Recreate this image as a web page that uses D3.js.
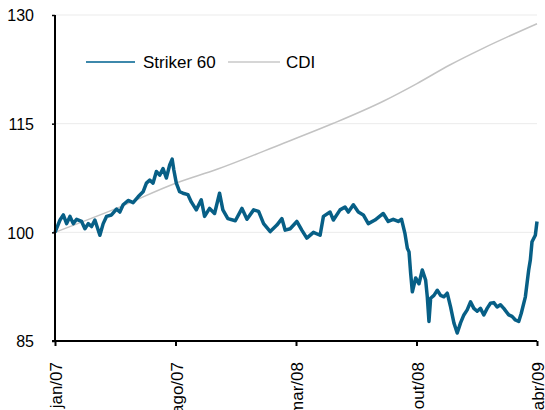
<!DOCTYPE html>
<html>
<head>
<meta charset="utf-8">
<script src="https://cdn.jsdelivr.net/npm/d3@7"></script>
<style>
  body { margin: 0; background: #fff; }
  text { font-family: "Liberation Sans", Arial, sans-serif; fill: #000; }
</style>
</head>
<body>
<svg width="545" height="410"></svg>
<script>
const svg = d3.select("svg");

// trading day index (0 = jan/07) and index value
const strikerDays = [0, 6, 10, 14, 18, 22, 26, 32, 36, 40, 44, 48, 54, 58, 62, 68, 74, 78, 82, 88,
  94, 100, 106, 110, 114, 118, 122, 126, 130, 134, 138, 141, 143, 146, 150, 154, 160, 164, 170, 176,
  180, 186, 192, 198, 202, 208, 217, 225, 231, 239, 245, 251, 259, 267, 273, 277, 283, 291, 297, 303,
  311, 319, 323, 331, 335, 343, 349, 353, 359, 365, 371, 377, 385, 395, 401, 407, 413, 417, 421, 424,
  426, 428, 430, 434, 438, 442, 446, 448, 450, 452, 456, 460, 464, 468, 472, 476, 480, 484, 488, 492,
  496, 500, 504, 508, 512, 516, 520, 524, 528, 532, 536, 540, 546, 550, 554, 558, 561, 566, 570, 572,
  574, 578, 580];
const strikerVals = [100.0, 101.7, 102.4, 101.2, 102.2, 101.2, 101.8, 101.5, 100.5, 101.2, 100.8, 101.7, 99.6, 101.2, 102.2, 102.4, 103.2, 102.8, 103.8, 104.4,
  104.1, 104.9, 105.6, 106.8, 107.2, 106.8, 108.4, 107.9, 108.8, 107.5, 109.3, 110.1, 108.6, 106.8, 105.6, 105.4, 105.2, 104.2, 103.1, 104.5,
  102.2, 103.3, 102.6, 105.4, 103.1, 101.9, 101.6, 103.3, 101.8, 103.1, 102.9, 101.2, 100.1, 101.0, 101.9, 100.3, 100.5, 101.5, 100.3, 99.2,
  100.0, 99.6, 102.2, 102.8, 101.7, 103.1, 103.5, 102.8, 103.8, 102.8, 102.4, 101.2, 101.7, 102.6, 101.5, 101.8, 101.5, 101.8, 99.9, 97.8,
  97.3, 94.3, 91.8, 93.7, 92.9, 94.8, 93.4, 91.1, 87.7, 90.9, 91.3, 92.0, 91.3, 91.1, 91.6, 89.7, 87.5, 86.1, 87.5, 88.6,
  89.3, 90.4, 89.5, 89.1, 89.5, 88.6, 89.5, 90.2, 90.3, 89.7, 90.0, 89.5, 88.6, 88.4, 87.9, 87.7, 88.8, 91.1, 94.8, 96.2,
  98.7, 99.6, 101.5];

const cdiDays = [0, 74, 146, 195, 275, 335, 395, 435, 475, 515, 580];
const cdiVals = [100.0, 103.3, 106.8, 108.7, 112.3, 115.05, 118.1, 120.5, 123.1, 125.4, 128.8];

const seriesNames = ["Striker 60", "CDI"];
const tickDays = [0, 145, 290, 435, 580];
const tickLabels = ["jan/07", "ago/07", "mar/08", "out/08", "abr/09"];
const yTicks = [85, 100, 115, 130];

const x = d3.scaleLinear().domain([0, 580]).range([55, 537]);
const y = d3.scaleLinear().domain([85, 130]).range([341, 15]);

// gridlines
svg.append("g")
  .selectAll("line")
  .data(yTicks.slice(1))
  .enter().append("line")
  .attr("x1", 55).attr("x2", 537)
  .attr("y1", d => y(d)).attr("y2", d => y(d))
  .attr("stroke", "#ebebeb").attr("stroke-width", 1);

const line = d3.line()
  .x(d => x(d[0]))
  .y(d => y(d[1]));

svg.append("path")
  .datum(d3.zip(cdiDays, cdiVals))
  .attr("d", line.curve(d3.curveMonotoneX))
  .attr("fill", "none")
  .attr("stroke", "#c3c3c3")
  .attr("stroke-width", 1.5);

svg.append("path")
  .datum(d3.zip(strikerDays, strikerVals))
  .attr("d", line.curve(d3.curveLinear))
  .attr("fill", "none")
  .attr("stroke", "#075f86")
  .attr("stroke-width", 3.5)
  .attr("stroke-linejoin", "round");

// y axis
const yAxis = svg.append("g")
  .attr("transform", "translate(55,0)")
  .call(d3.axisLeft(y).tickValues(yTicks).tickSize(3).tickPadding(18).tickFormat(d3.format("d")));
yAxis.select(".domain").attr("stroke", "#000").attr("stroke-width", 2).attr("d", "M0,15V341");
yAxis.selectAll(".tick line").attr("stroke", "#000").attr("stroke-width", 1.5);
yAxis.selectAll("text").style("font-size", "16px").attr("dy", "0.36em");

// x axis
const xAxis = svg.append("g")
  .attr("transform", "translate(0,341)")
  .call(d3.axisBottom(x).tickValues(tickDays).tickSize(5).tickFormat((d, i) => tickLabels[i]));
xAxis.select(".domain").attr("stroke", "#000").attr("stroke-width", 2).attr("d", "M52,0H537");
xAxis.selectAll(".tick line").attr("stroke", "#000").attr("stroke-width", 2);
xAxis.selectAll("text")
  .style("font-size", "17px")
  .attr("text-anchor", "end")
  .attr("transform", "rotate(-90)")
  .attr("x", -21).attr("y", 0).attr("dy", "0.4em");

// legend
const legend = svg.append("g");
const legendItems = [
  {name: seriesNames[0], x1: 86, x2: 135, tx: 143, color: "#3d88ab", w: 2},
  {name: seriesNames[1], x1: 228, x2: 280, tx: 286, color: "#c8c8c8", w: 1.5}
];
legendItems.forEach(it => {
  legend.append("line")
    .attr("x1", it.x1).attr("x2", it.x2).attr("y1", 62).attr("y2", 62)
    .attr("stroke", it.color).attr("stroke-width", it.w);
  legend.append("text")
    .attr("x", it.tx).attr("y", 62).attr("dy", "0.36em")
    .style("font-size", "17px")
    .text(it.name);
});
</script>
</body>
</html>
